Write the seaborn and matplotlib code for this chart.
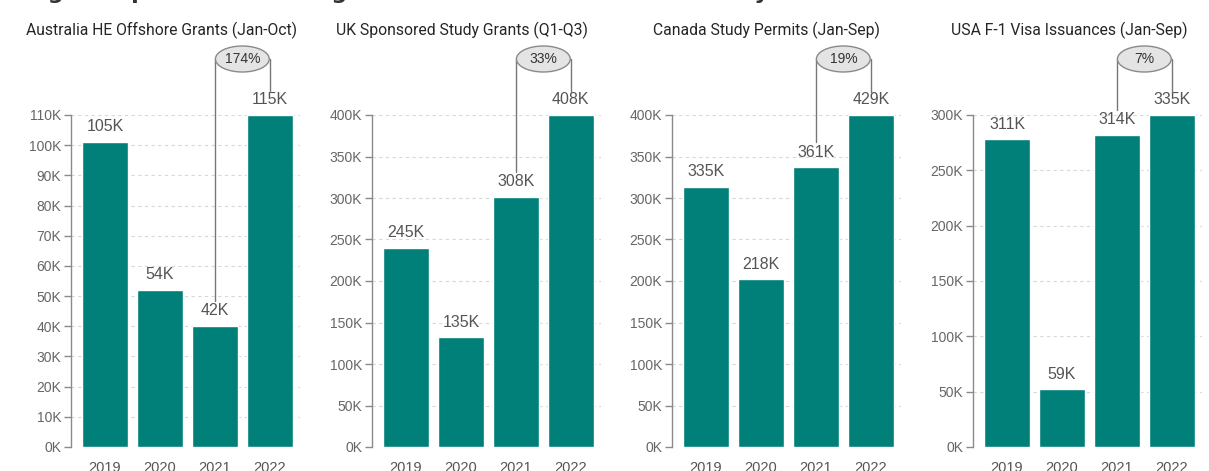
import matplotlib
matplotlib.use("Agg")
import matplotlib.pyplot as plt
import matplotlib.transforms as mtransforms
from matplotlib.patches import Ellipse
from matplotlib.ticker import FuncFormatter, MultipleLocator
import seaborn as sns
import pandas as pd

# ---------------- data ----------------
years = ["2019", "2020", "2021", "2022"]
titles = [
    "Australia HE Offshore Grants (Jan-Oct)",
    "UK Sponsored Study Grants (Q1-Q3)",
    "Canada Study Permits (Jan-Sep)",
    "USA F-1 Visa Issuances (Jan-Sep)",
]
# bar heights as drawn (thousands)
aus_bars = [101, 52, 40, 110]
uk_bars = [240, 132, 301, 400]
can_bars = [313, 202, 337, 400]
usa_bars = [278, 52, 282, 300]
# value labels shown above the bars
aus_labels = ["105K", "54K", "42K", "115K"]
uk_labels = ["245K", "135K", "308K", "408K"]
can_labels = ["335K", "218K", "361K", "429K"]
usa_labels = ["311K", "59K", "314K", "335K"]
growth_labels = ["174%", "33%", "19%", "7%"]
y_max = [110, 400, 400, 300]
y_step = [10, 50, 50, 50]

suptitle_text = "Fig 1: Top four markets' grants from 2019 to 2022 listed by market"

bars_all = [aus_bars, uk_bars, can_bars, usa_bars]
labels_all = [aus_labels, uk_labels, can_labels, usa_labels]

# ---------------- style ----------------
sns.set_theme(style="white")
plt.rcParams["font.family"] = ["Liberation Sans", "DejaVu Sans"]

TEAL = "#01807a"
W, H = 1209, 471
fig = plt.figure(figsize=(W / 100, H / 100), dpi=100)

ax_left_px = [71, 372, 672, 973]
ax_w_px = 229
ax_top_px, ax_bot_px = 115, 447
ax_h_px = ax_bot_px - ax_top_px
title_cx = [161, 462, 766, 1069]

# headline of the page, cut off by the top edge (only descenders visible)
fig.text(25 / W, 1 + 1 / H, suptitle_text, fontsize=16, fontweight="bold",
         color="#333333", ha="left", va="baseline", family="DejaVu Sans")

for k in range(4):
    ax = fig.add_axes([ax_left_px[k] / W, 1 - ax_bot_px / H, ax_w_px / W, ax_h_px / H])
    df = pd.DataFrame({"year": years, "value": bars_all[k]})
    sns.barplot(data=df, x="year", y="value", color=TEAL, saturation=1,
                width=0.84, ax=ax, zorder=3)
    ymax = y_max[k]
    ax.set_ylim(0, ymax)
    ax.set_xlim(-0.62, 3.55)
    ax.set_xlabel("")
    ax.set_ylabel("")
    ax.yaxis.set_major_locator(MultipleLocator(y_step[k]))
    ax.yaxis.set_major_formatter(FuncFormatter(lambda v, p: f"{int(round(v))}K"))
    ax.set_axisbelow(True)
    ax.yaxis.grid(True, linestyle=(0, (3, 3)), color="#d8d8d8", linewidth=0.8)
    ax.xaxis.grid(False)
    for s in ["top", "right", "bottom"]:
        ax.spines[s].set_visible(False)
    ax.spines["left"].set_color("#8a8a8a")
    ax.spines["left"].set_linewidth(1.0)
    ax.tick_params(axis="y", left=True, length=5, width=1, color="#8a8a8a",
                   labelsize=10, labelcolor="#666666", pad=2)
    ax.tick_params(axis="x", bottom=False, length=0, labelsize=10.5,
                   labelcolor="#555555", pad=10)
    for lab in ax.get_xticklabels() + ax.get_yticklabels():
        lab.set_fontfamily("Liberation Sans")

    # value labels
    for i, (h, lab) in enumerate(zip(bars_all[k], labels_all[k])):
        ax.annotate(lab, xy=(i, h), xytext=(0, 11), textcoords="offset points",
                    ha="center", va="center", fontsize=11.5, color="#555555",
                    annotation_clip=False)

    # growth bubble connecting 2021 and 2022
    trans = mtransforms.blended_transform_factory(ax.transData, ax.transAxes)
    yc = 1 + 56 / ax_h_px
    y_left_end = bars_all[k][2] / ymax + 25 / ax_h_px
    y_right_end = bars_all[k][3] / ymax + 23 / ax_h_px
    ax.plot([2, 2], [y_left_end, yc], transform=trans, color="#777777",
            lw=1, clip_on=False, zorder=4)
    ax.plot([3, 3], [y_right_end, yc], transform=trans, color="#777777",
            lw=1, clip_on=False, zorder=4)
    ell = Ellipse((2.5, yc), width=0.98, height=26 / ax_h_px, transform=trans,
                  facecolor="#e4e4e4", edgecolor="#8a8a8a", lw=1, clip_on=False,
                  zorder=5)
    ax.add_artist(ell)
    ax.text(2.5, yc, growth_labels[k], transform=trans, ha="center", va="center",
            fontsize=10, color="#333333", zorder=6)

    fig.text(title_cx[k] / W, 1 - 30 / H, titles[k], ha="center", va="center",
             fontsize=11.3, color="#252525", family="Roboto")

fig.savefig("out.png", dpi=100, facecolor="white")
